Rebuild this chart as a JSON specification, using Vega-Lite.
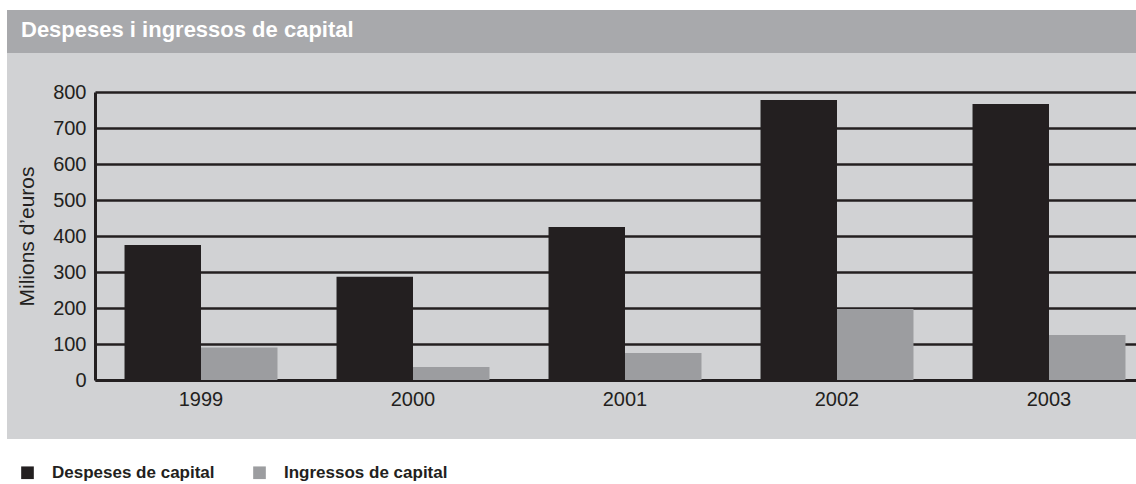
{
  "$schema": "https://vega.github.io/schema/vega-lite/v6.json",
  "width": 1129,
  "height": 429,
  "autosize": {"type": "none"},
  "padding": {"left": 7, "top": 10, "right": 0, "bottom": 45},
  "background": "#ffffff",
  "view": {"fill": "#d1d2d4", "stroke": null},
  "title": {
    "text": "Despeses i ingressos de capital",
    "anchor": "start",
    "frame": "group",
    "orient": "top",
    "offset": -27,
    "baseline": "alphabetic",
    "dx": 14,
    "dy": 22,
    "color": "#ffffff",
    "font": "Liberation Sans",
    "fontSize": 22,
    "fontWeight": "bold"
  },
  "layer": [
    {
      "data": {"values": [{"panel": "capçalera"}]},
      "mark": {"type": "rect", "color": "#a8a9ac"},
      "encoding": {
        "y": {"datum": 1027.8, "type": "quantitative", "scale": {"domain": [0, 800], "range": [370, 82], "nice": false}},
        "y2": {"datum": 908.3}
      }
    },
    {
      "data": {
        "values": [
          {"Any": "1999", "Sèrie": "Despeses de capital", "Valor": 375},
          {"Any": "1999", "Sèrie": "Ingressos de capital", "Valor": 90},
          {"Any": "2000", "Sèrie": "Despeses de capital", "Valor": 287},
          {"Any": "2000", "Sèrie": "Ingressos de capital", "Valor": 36},
          {"Any": "2001", "Sèrie": "Despeses de capital", "Valor": 425},
          {"Any": "2001", "Sèrie": "Ingressos de capital", "Valor": 75},
          {"Any": "2002", "Sèrie": "Despeses de capital", "Valor": 778},
          {"Any": "2002", "Sèrie": "Ingressos de capital", "Valor": 197},
          {"Any": "2003", "Sèrie": "Despeses de capital", "Valor": 767},
          {"Any": "2003", "Sèrie": "Ingressos de capital", "Valor": 125}
        ]
      },
      "mark": {"type": "bar"},
      "encoding": {
        "x": {
          "field": "Any",
          "type": "nominal",
          "scale": {"range": [88, 1148], "paddingInner": 0, "paddingOuter": 0},
          "axis": {
            "orient": "bottom",
            "offset": -59,
            "domain": true,
            "domainColor": "#231f20",
            "domainWidth": 3,
            "ticks": false,
            "grid": false,
            "labelAngle": 0,
            "labelPadding": 9,
            "labelFont": "Liberation Sans",
            "labelFontSize": 20,
            "labelColor": "#231f20",
            "title": null
          }
        },
        "xOffset": {
          "field": "Sèrie",
          "type": "nominal",
          "sort": ["Despeses de capital", "Ingressos de capital"],
          "scale": {"paddingInner": 0, "paddingOuter": 0.386}
        },
        "y": {
          "field": "Valor",
          "type": "quantitative",
          "scale": {"domain": [0, 800], "range": [370, 82], "nice": false},
          "axis": {
            "values": [0, 100, 200, 300, 400, 500, 600, 700, 800],
            "offset": -88,
            "domain": true,
            "domainColor": "#231f20",
            "domainWidth": 3,
            "ticks": false,
            "grid": true,
            "gridColor": "#231f20",
            "gridWidth": 2.5,
            "gridOpacity": 1,
            "labelPadding": 9,
            "labelFont": "Liberation Sans",
            "labelFontSize": 20,
            "labelColor": "#231f20",
            "title": "Milions d’euros",
            "titleFont": "Liberation Sans",
            "titleFontSize": 21,
            "titleFontWeight": "normal",
            "titleColor": "#231f20",
            "titleAngle": -90,
            "titleAlign": "center",
            "titleBaseline": "middle",
            "titleX": -68,
            "titleY": 226
          }
        },
        "color": {
          "field": "Sèrie",
          "type": "nominal",
          "scale": {"domain": ["Despeses de capital", "Ingressos de capital"], "range": ["#231f20", "#9c9da0"]},
          "legend": {
            "orient": "none",
            "legendX": 12,
            "legendY": 454,
            "direction": "horizontal",
            "title": null,
            "symbolType": "square",
            "symbolSize": 160,
            "symbolStrokeWidth": 0,
            "symbolOpacity": 1,
            "labelFont": "Liberation Sans",
            "labelFontSize": 17,
            "labelFontWeight": "bold",
            "labelLimit": 400,
            "labelColor": "#231f20",
            "labelOffset": 16,
            "columnPadding": 36
          }
        }
      }
    }
  ]
}
